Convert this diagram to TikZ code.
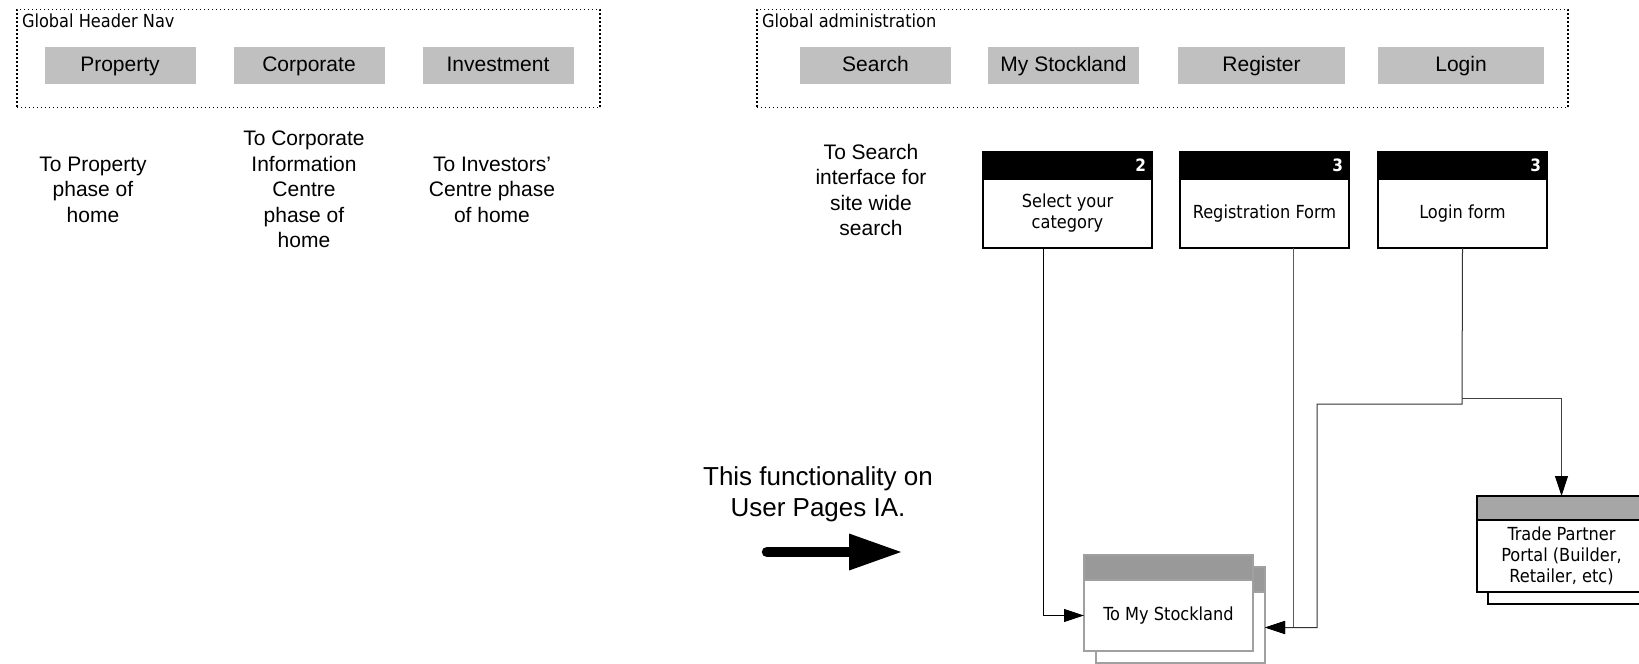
\documentclass[tikz,border=0pt]{standalone}
\usepackage{fontspec}
\setmainfont{Liberation Sans}
\newfontfamily\vis{DejaVu Sans Condensed}
\usetikzlibrary{arrows.meta}
\definecolor{navgray}{RGB}{192,192,192}
\definecolor{hdrgray}{RGB}{153,153,153}
\definecolor{tpgray}{RGB}{166,166,166}
\definecolor{edgegray}{RGB}{160,160,160}
\begin{document}
\begin{tikzpicture}[x=1pt,y=-1pt,
  every node/.style={inner sep=0pt, outer sep=0pt},
  frame/.style={draw, line width=1.1pt, dash pattern=on 1.1pt off 2.9pt},
  frametitle/.style={anchor=west, font=\vis\fontsize{18}{21}\selectfont},
  navbtn/.style={fill=navgray, minimum height=37pt, text height=16pt, text depth=3.5pt, font=\fontsize{21}{24}\selectfont},
  note/.style={align=center, font=\fontsize{21}{25.5}\selectfont},
  bignote/.style={align=center, font=\fontsize{26}{31}\selectfont},
  hdr/.style={draw, line width=1.6pt, fill=black, minimum width=169pt, minimum height=27pt, anchor=south west},
  body/.style={draw, line width=1.6pt, fill=white, minimum width=169pt, minimum height=69pt, anchor=north west, align=center, font=\vis\fontsize{18}{21}\selectfont},
  num/.style={anchor=east, text=white, font=\vis\bfseries\fontsize{17}{17}\selectfont},
  gbox/.style={draw=edgegray, line width=1.4pt, minimum width=169pt, anchor=north west, align=center, font=\vis\fontsize{18}{21}\selectfont},
  tbox/.style={draw, line width=1.4pt, minimum width=169pt, anchor=north west, align=center, font=\vis\fontsize{18}{21}\selectfont},
  conn/.style={line width=1pt, -{Triangle[length=20pt,width=13pt,color=black]}}
]
\useasboundingbox (0,0) rectangle (1639,664);

% ---- Global Header Nav ----
\node[frame, minimum width=583pt, minimum height=98pt, anchor=north west] (navframe) at (17,9.5) {};
\node[frametitle] (navtitle) at (22,21) {Global Header Nav};
\node[navbtn, minimum width=151pt] (property) at (120,65.5) {Property};
\node[navbtn, minimum width=151pt] (corporate) at (309,65.5) {Corporate};
\node[navbtn, minimum width=151pt] (investment) at (498,65.5) {Investment};

\node[note] (tprop) at (93,189.5) {To Property\\phase of\\home};
\node[note] (tcorp) at (304,189.5) {To Corporate\\Information\\Centre\\phase of\\home};
\node[note] (tinv) at (492,189.5) {To Investors'\\Centre phase\\of home};

% ---- Global administration ----
\node[frame, minimum width=811pt, minimum height=98pt, anchor=north west] (adminframe) at (757,9.5) {};
\node[frametitle] (admintitle) at (762,21) {Global administration};
\node[navbtn, minimum width=151pt] (search) at (875.5,65.5) {Search};
\node[navbtn, minimum width=151pt] (mystock) at (1063.5,65.5) {My Stockland};
\node[navbtn, minimum width=167pt] (register) at (1261.5,65.5) {Register};
\node[navbtn, minimum width=166pt] (login) at (1461,65.5) {Login};

\node[note] (tsearch) at (871,190) {To Search\\interface for\\site wide\\search};

% ---- numbered boxes ----
\node[hdr] (Ah) at (983,179) {};
\node[body] (A) at (983,179) {Select your\\category};
\node[num] (An) at ([xshift=-6pt]Ah.east) {2};

\node[hdr] (Bh) at (1180,179) {};
\node[body] (B) at (1180,179) {Registration Form};
\node[num] (Bn) at ([xshift=-6pt]Bh.east) {3};

\node[hdr] (Ch) at (1378,179) {};
\node[body] (C) at (1378,179) {Login form};
\node[num] (Cn) at ([xshift=-6pt]Ch.east) {3};

% ---- To My Stockland (stacked) ----
\node[gbox, fill=hdrgray, minimum height=25pt] (MSbh) at (1096,567) {};
\node[gbox, fill=white, minimum height=71pt] (MSb) at (1096,592) {};
\node[gbox, fill=hdrgray, minimum height=25pt] (MSh) at (1084,555) {};
\node[gbox, fill=white, minimum height=71pt] (MS) at (1084,580) {To My Stockland};

% ---- Trade Partner Portal (stacked) ----
\node[tbox, fill=white, minimum height=97pt] (TPb) at (1488,507) {};
\node[tbox, fill=tpgray, minimum height=24pt] (TPh) at (1477,496) {};
\node[tbox, fill=white, minimum height=72pt] (TP) at (1477,520) {Trade Partner\\Portal (Builder,\\Retailer, etc)};

% ---- connectors ----
\coordinate (cL) at (1462,404);
\coordinate (cM) at (1317,404);
\coordinate (cR) at (1462,398.5);
\draw[conn] ([xshift=-24.5pt]A.south) |- (MS.west);
\draw[conn, draw=black!65] ([xshift=29pt]B.south) |- (MSb.east);
\draw[conn, draw=black!80] (C.south) -- (cL) -- (cM) |- (MSb.east);
\draw[conn, draw=black!75] (cR) -| (TPh.north);

% ---- side note with big arrow ----
\node[bignote] (func) at (818,494) {This functionality on\\User Pages IA.};
\coordinate (arrS) at (767,552);
\coordinate (arrM) at (851,552);
\coordinate (arrT) at (849,533.5);
\coordinate (arrB) at (849,570.5);
\coordinate (arrE) at (901,552);
\draw[line width=10.5pt, line cap=round] (arrS) -- (arrM);
\fill (arrT) -- (arrE) -- (arrB) -- cycle;
\end{tikzpicture}
\end{document}
